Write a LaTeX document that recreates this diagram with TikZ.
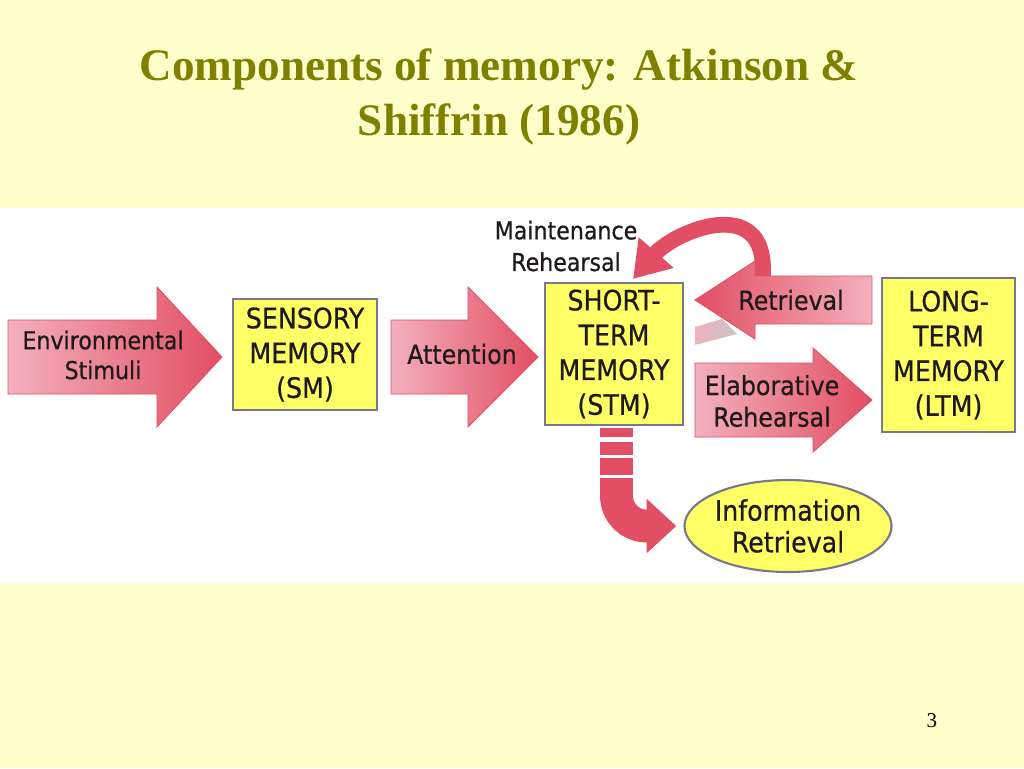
\documentclass[tikz,border=0pt]{standalone}
\usepackage{fontspec}
\setmainfont{Liberation Serif}
\newfontfamily\diagfont[FakeStretch=0.9, FakeBold=0.6]{DejaVu Sans}
\usetikzlibrary{shapes.geometric,arrows.meta,calc}

\definecolor{slidebg}{RGB}{255,255,204}
\definecolor{titleolive}{RGB}{128,128,0}
\definecolor{memyellow}{RGB}{255,255,102}
\definecolor{memedge}{RGB}{120,120,140}
\definecolor{arrowlight}{RGB}{243,176,188}
\definecolor{arrowdark}{RGB}{226,78,100}
\definecolor{labelink}{RGB}{30,26,26}

\tikzset{
  titletext/.style={font=\bfseries\fontsize{25.7}{31}\selectfont, text=titleolive, inner sep=0pt, anchor=base},
  membox/.style={draw=memedge, line width=1.2pt, fill=memyellow, align=center, inner sep=0pt,
    font=\diagfont\fontsize{16}{19.8}\selectfont, text=labelink},
  arrowlabel/.style={align=center, inner sep=0pt, font=\diagfont\fontsize{15}{18}\selectfont, text=labelink},
  arrowbody/.style={left color=arrowlight, right color=arrowdark, draw=arrowdark, line width=0.5pt},
}

\begin{document}
\begin{tikzpicture}[x=0.02cm, y=-0.02cm]
  \useasboundingbox (0,0) rectangle (1024,768);
  % slide background and white band
  \fill[slidebg] (0,0) rectangle (1024,768);
  \fill[white] (0,208) rectangle (1024,583);

  % Title
  \node[titletext] (title1) at (499,80) {Components of memory: Atkinson \&};
  \node[titletext] (title2) at (499,135) {Shiffrin (1986)};
  \node[font=\fontsize{12}{14}\selectfont, anchor=base, inner sep=0pt] (pagenum) at (932,727) {3};

  % Memory stores
  \node[membox, minimum width=28.8mm, minimum height=22.2mm] (sm) at (305,354.5) {SENSORY\\MEMORY\\(SM)};
  \node[membox, minimum width=27.6mm, minimum height=28.4mm] (stm) at (614,354) {SHORT-\\TERM\\MEMORY\\(STM)};
  \node[membox, minimum width=26.6mm, minimum height=30.8mm] (ltm) at (948.5,355) {LONG-\\TERM\\MEMORY\\(LTM)};
  \node[membox, ellipse, minimum width=37.6mm, minimum height=18.4mm, font=\diagfont\fontsize{16}{18}\selectfont] (info) at (788,526) {Information\\Retrieval};

  % Block arrows pointing right: tail/head/tip/centre/half body/half head
  \foreach \xa/\xb/\xc/\yc/\hb/\hh in {8/157/222/357/37/70, 391/468/538/357/37/70, 695/813/872/400/37/52} {
    \shadedraw[arrowbody] ({\xa},{\yc-\hb}) -- ({\xb},{\yc-\hb}) -- ({\xb},{\yc-\hh}) -- ({\xc},{\yc})
      -- ({\xb},{\yc+\hh}) -- ({\xb},{\yc+\hb}) -- ({\xa},{\yc+\hb}) -- cycle;
  }

  % Maintenance rehearsal loop
  \coordinate (maintstart) at (762,284);
  \draw[arrowdark, line width=9pt, -{Triangle[length=20pt,width=25pt]}]
    (maintstart) .. controls (774,190) and (676,230) .. ($(stm.north)+(19,-3)$);
  \shade[left color=arrowlight, right color=gray!45] (695,327) -- (722,319) -- (737,334) -- (695,345) -- cycle;

  % Retrieval arrow pointing left
  \shadedraw[arrowbody, left color=arrowdark, right color=arrowlight]
    (872,276) -- (755,276) -- (755,261) -- (695,300) -- (755,339) -- (755,324) -- (872,324) -- cycle;

  % STM to information retrieval
  \foreach \ya/\yb in {428/437, 442/455, 458/475} {
    \fill[arrowdark] (600,\ya) rectangle (633,\yb);
  }
  \coordinate (stmout) at (616.5,478);
  \draw[arrowdark, line width=18.7pt, rounded corners=6mm, -{Triangle[length=17pt,width=30pt]}]
    (stmout) |- ($(info.west)+(-7,0)$);

  % Arrow labels
  \node[arrowlabel, font=\diagfont\fontsize{14}{17}\selectfont] (env) at (103,355) {Environmental\\Stimuli};
  \node[arrowlabel] (attn) at (462,354) {Attention};
  \node[arrowlabel] (retr) at (791,300) {Retrieval};
  \node[arrowlabel] (elab) at (772,401) {Elaborative\\Rehearsal};
  \node[arrowlabel, font=\diagfont\fontsize{14}{18}\selectfont] (maint) at (566,246) {Maintenance\\Rehearsal};
\end{tikzpicture}
\end{document}
